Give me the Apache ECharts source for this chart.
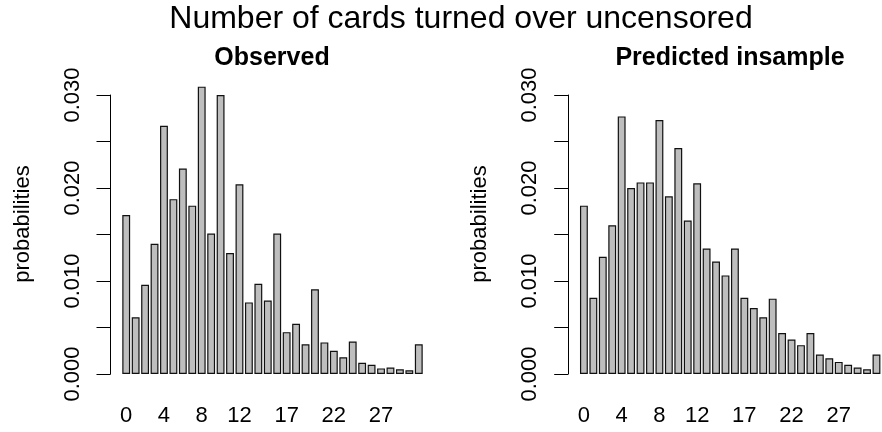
<!DOCTYPE html>
<html>
<head>
<meta charset="utf-8">
<script src="https://cdn.jsdelivr.net/npm/echarts@6/dist/echarts.min.js"></script>
<style>html,body{margin:0;padding:0;background:#fff}#c{width:882px;height:432px}</style>
</head>
<body>
<div id="c"></div>
<script>
const categories = ['0','1','2','3','4','5','6','7','8','9','10','11','12','13','14','15','16','17','18','19','20','21','22','23','24','25','26','27','28','29','30','31'];
const shownXLabels = ['0','4','8','12','17','22','27'];
const observed = [0.0171,0.0061,0.0096,0.0140,0.0267,0.0188,0.0221,0.0181,0.0309,0.0151,0.0300,0.0130,0.0204,0.0077,0.0097,0.0079,0.0151,0.0045,0.0054,0.0032,0.0091,0.0034,0.0025,0.0018,0.0035,0.0012,0.0010,0.0006,0.0007,0.0005,0.0004,0.0032];
const predicted = [0.0181,0.0082,0.0126,0.0160,0.0277,0.0200,0.0206,0.0206,0.0273,0.0191,0.0243,0.0165,0.0205,0.0135,0.0121,0.0106,0.0135,0.0082,0.0071,0.0061,0.0081,0.0044,0.0037,0.0031,0.0044,0.0021,0.0017,0.0013,0.0010,0.0007,0.0005,0.0021];
const yTickLabels = ['0.000','','0.010','','0.020','','0.030'];
const mainTitle = 'Number of cards turned over uncensored';
const panelTitles = ['Observed','Predicted insample'];
const yName = 'probabilities';

const FONT = 'Liberation Sans, Arial, sans-serif';
const chart = echarts.init(document.getElementById('c'), null, {renderer:'canvas'});

function xAxis(gi){
  return {
    type:'category', gridIndex:gi, data:categories,
    axisLine:{show:false}, axisTick:{show:false}, splitLine:{show:false},
    axisLabel:{
      interval:(i, v)=>shownXLabels.indexOf(v) >= 0,
      margin:31, fontSize:22, color:'#000', fontFamily:FONT
    }
  };
}
function yAxis(gi){
  return {
    type:'value', gridIndex:gi, min:0, max:0.03, interval:0.005, offset:11,
    axisLine:{show:true, lineStyle:{color:'#000', width:1}},
    axisTick:{show:true, length:14, lineStyle:{color:'#000', width:1}},
    splitLine:{show:false},
    axisLabel:{
      rotate:90, margin:27, fontSize:22, color:'#000', fontFamily:FONT,
      formatter:(v)=>yTickLabels[Math.round(v/0.005)] || ''
    },
    name:yName, nameLocation:'middle', nameRotate:90, nameGap:77,
    nameTextStyle:{fontSize:22, color:'#000', fontFamily:FONT, padding:[0,0,0,21]}
  };
}
function barSeries(gi, data){
  return {
    type:'bar', xAxisIndex:gi, yAxisIndex:gi, data:data, clip:false,
    barCategoryGap:'16.67%',
    itemStyle:{color:'#bebebe', borderColor:'#111', borderWidth:1.2},
    emphasis:{disabled:true}, animation:false
  };
}

chart.setOption({
  backgroundColor:'#fff',
  animation:false,
  title:[
    {text:mainTitle, left:461, top:3, textAlign:'center', padding:0,
     textStyle:{fontSize:32, fontWeight:'normal', color:'#000', fontFamily:FONT}},
    {text:panelTitles[0], left:272, top:46, textAlign:'center', padding:0,
     textStyle:{fontSize:25, fontWeight:'bold', color:'#000', fontFamily:FONT}},
    {text:panelTitles[1], left:730, top:46, textAlign:'center', padding:0,
     textStyle:{fontSize:25, fontWeight:'bold', color:'#000', fontFamily:FONT}}
  ],
  grid:[
    {left:121.5, top:95, width:302, height:279, containLabel:false},
    {left:579.2, top:95, width:302, height:279, containLabel:false}
  ],
  xAxis:[xAxis(0), xAxis(1)],
  yAxis:[yAxis(0), yAxis(1)],
  series:[barSeries(0, observed), barSeries(1, predicted)]
});
</script>
</body>
</html>
